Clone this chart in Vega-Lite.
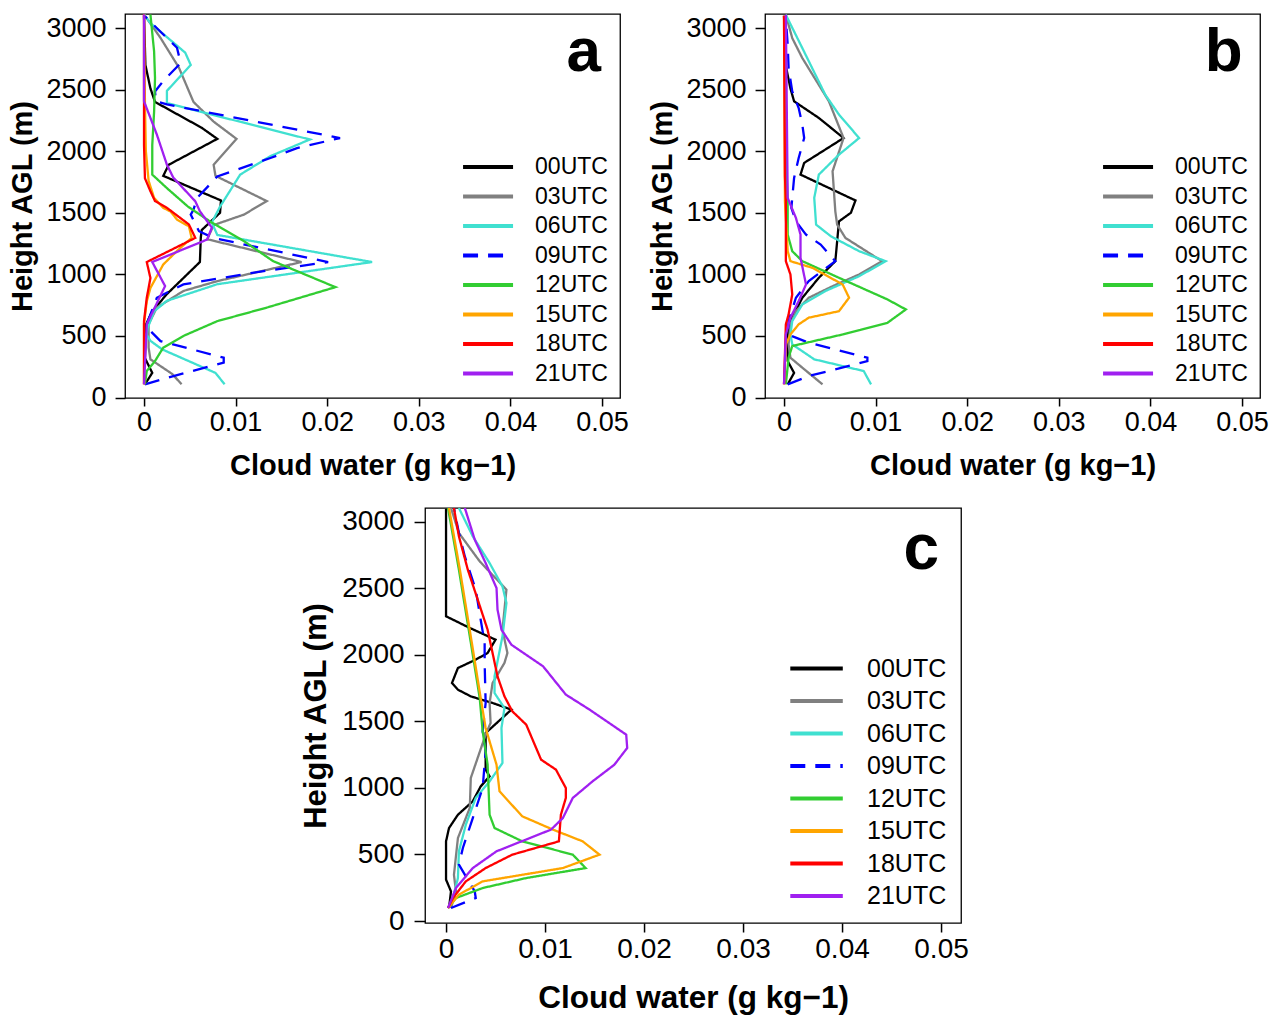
{
"$schema": "https://vega.github.io/schema/vega-lite/v6.json",
"background": "white",
"padding": {"left": 8, "top": 13, "right": 5, "bottom": 2},
"center": true,
"spacing": 26,
"config": {
  "view": {"stroke": "#000", "strokeWidth": 1.3},
  "axis": {"grid": false, "domain": false, "tickColor": "#000", "tickWidth": 1.5, "labelColor": "#000", "titleColor": "#000", "labelFont": "Liberation Sans", "titleFont": "Liberation Sans", "titleFontWeight": "bold", "labelFlush": false, "labelOverlap": false},
  "legend": {"labelFont": "Liberation Sans", "labelColor": "#000", "symbolType": "M-2.5,0H2.5", "symbolStrokeWidth": 4, "padding": 0}
},
"datasets": {
"a": [
{"t":"00UTC","h":3100,"w":0},{"t":"00UTC","h":2700,"w":0.00015},{"t":"00UTC","h":2510,"w":0.0007},{"t":"00UTC","h":2400,"w":0.0012},{"t":"00UTC","h":2190,"w":0.0063},{"t":"00UTC","h":2100,"w":0.008},{"t":"00UTC","h":1890,"w":0.0027},{"t":"00UTC","h":1800,"w":0.0021},{"t":"00UTC","h":1600,"w":0.0084},{"t":"00UTC","h":1500,"w":0.0083},{"t":"00UTC","h":1360,"w":0.0063},{"t":"00UTC","h":1300,"w":0.0062},{"t":"00UTC","h":1100,"w":0.0061},{"t":"00UTC","h":840,"w":0.0025},{"t":"00UTC","h":700,"w":0.0009},{"t":"00UTC","h":590,"w":0.0002},{"t":"00UTC","h":320,"w":0.0001},{"t":"00UTC","h":200,"w":0.0009},{"t":"00UTC","h":107,"w":0.0001},
{"t":"03UTC","h":3110,"w":0},{"t":"03UTC","h":2920,"w":0.0018},{"t":"03UTC","h":2680,"w":0.0038},{"t":"03UTC","h":2400,"w":0.0054},{"t":"03UTC","h":2240,"w":0.0076},{"t":"03UTC","h":2100,"w":0.0101},{"t":"03UTC","h":1890,"w":0.0076},{"t":"03UTC","h":1800,"w":0.0078},{"t":"03UTC","h":1595,"w":0.0134},{"t":"03UTC","h":1485,"w":0.0109},{"t":"03UTC","h":1400,"w":0.0076},{"t":"03UTC","h":1285,"w":0.0069},{"t":"03UTC","h":1100,"w":0.0172},{"t":"03UTC","h":945,"w":0.008},{"t":"03UTC","h":865,"w":0.0043},{"t":"03UTC","h":730,"w":0.0014},{"t":"03UTC","h":595,"w":0.0005},{"t":"03UTC","h":405,"w":0.0005},{"t":"03UTC","h":310,"w":0.0007},{"t":"03UTC","h":190,"w":0.0031},{"t":"03UTC","h":107,"w":0.0041},
{"t":"06UTC","h":3110,"w":0},{"t":"06UTC","h":3040,"w":0.0007},{"t":"06UTC","h":2800,"w":0.0045},{"t":"06UTC","h":2700,"w":0.0051},{"t":"06UTC","h":2490,"w":0.0025},{"t":"06UTC","h":2390,"w":0.0025},{"t":"06UTC","h":2095,"w":0.0181},{"t":"06UTC","h":1960,"w":0.0138},{"t":"06UTC","h":1810,"w":0.0105},{"t":"06UTC","h":1550,"w":0.0083},{"t":"06UTC","h":1420,"w":0.0074},{"t":"06UTC","h":1320,"w":0.008},{"t":"06UTC","h":1100,"w":0.0249},{"t":"06UTC","h":920,"w":0.008},{"t":"06UTC","h":785,"w":0.0025},{"t":"06UTC","h":700,"w":0.0011},{"t":"06UTC","h":565,"w":0.0004},{"t":"06UTC","h":510,"w":0.0003},{"t":"06UTC","h":460,"w":0.0007},{"t":"06UTC","h":390,"w":0.002},{"t":"06UTC","h":200,"w":0.0078},{"t":"06UTC","h":107,"w":0.0088},
{"t":"09UTC","h":3095,"w":0.0001},{"t":"09UTC","h":2970,"w":0.0018},{"t":"09UTC","h":2840,"w":0.0036},{"t":"09UTC","h":2715,"w":0.004},{"t":"09UTC","h":2570,"w":0.0021},{"t":"09UTC","h":2485,"w":0.0012},{"t":"09UTC","h":2405,"w":0.0013},{"t":"09UTC","h":2380,"w":0.0025},{"t":"09UTC","h":2107,"w":0.0214},{"t":"09UTC","h":2025,"w":0.0167},{"t":"09UTC","h":1945,"w":0.0138},{"t":"09UTC","h":1795,"w":0.008},{"t":"09UTC","h":1620,"w":0.0058},{"t":"09UTC","h":1525,"w":0.0054},{"t":"09UTC","h":1485,"w":0.0051},{"t":"09UTC","h":1350,"w":0.006},{"t":"09UTC","h":1295,"w":0.0076},{"t":"09UTC","h":1100,"w":0.0201},{"t":"09UTC","h":1010,"w":0.0116},{"t":"09UTC","h":918,"w":0.0043},{"t":"09UTC","h":810,"w":0.0014},{"t":"09UTC","h":595,"w":0.0003},{"t":"09UTC","h":540,"w":0.0007},{"t":"09UTC","h":458,"w":0.0018},{"t":"09UTC","h":323,"w":0.0087},{"t":"09UTC","h":283,"w":0.0087},{"t":"09UTC","h":160,"w":0.0025},{"t":"09UTC","h":107,"w":0.0001},
{"t":"12UTC","h":3110,"w":0.0007},{"t":"12UTC","h":2810,"w":0.0011},{"t":"12UTC","h":2595,"w":0.0012},{"t":"12UTC","h":2320,"w":0.0011},{"t":"12UTC","h":2050,"w":0.0009},{"t":"12UTC","h":1810,"w":0.0009},{"t":"12UTC","h":1700,"w":0.0025},{"t":"12UTC","h":1550,"w":0.0048},{"t":"12UTC","h":1430,"w":0.0072},{"t":"12UTC","h":1270,"w":0.0109},{"t":"12UTC","h":1107,"w":0.0141},{"t":"12UTC","h":896,"w":0.0209},{"t":"12UTC","h":730,"w":0.0134},{"t":"12UTC","h":620,"w":0.008},{"t":"12UTC","h":500,"w":0.0043},{"t":"12UTC","h":405,"w":0.0021},{"t":"12UTC","h":296,"w":0.0012},{"t":"12UTC","h":215,"w":0.0003},{"t":"12UTC","h":107,"w":0.0001},
{"t":"15UTC","h":3110,"w":0},{"t":"15UTC","h":2400,"w":0.0001},{"t":"15UTC","h":2000,"w":0.0002},{"t":"15UTC","h":1760,"w":0.0005},{"t":"15UTC","h":1620,"w":0.0011},{"t":"15UTC","h":1540,"w":0.0021},{"t":"15UTC","h":1510,"w":0.0029},{"t":"15UTC","h":1445,"w":0.0036},{"t":"15UTC","h":1390,"w":0.0049},{"t":"15UTC","h":1296,"w":0.0052},{"t":"15UTC","h":1190,"w":0.0036},{"t":"15UTC","h":1080,"w":0.0021},{"t":"15UTC","h":890,"w":0.0007},{"t":"15UTC","h":780,"w":0.0003},{"t":"15UTC","h":600,"w":0},{"t":"15UTC","h":107,"w":0},
{"t":"18UTC","h":3110,"w":0},{"t":"18UTC","h":2400,"w":0},{"t":"18UTC","h":2050,"w":0},{"t":"18UTC","h":1780,"w":0.0001},{"t":"18UTC","h":1675,"w":0.0007},{"t":"18UTC","h":1595,"w":0.0012},{"t":"18UTC","h":1540,"w":0.0025},{"t":"18UTC","h":1405,"w":0.0049},{"t":"18UTC","h":1296,"w":0.0056},{"t":"18UTC","h":1100,"w":0.0003},{"t":"18UTC","h":970,"w":0.0007},{"t":"18UTC","h":810,"w":0.0003},{"t":"18UTC","h":620,"w":0},{"t":"18UTC","h":107,"w":0},
{"t":"21UTC","h":3110,"w":0},{"t":"21UTC","h":2405,"w":0},{"t":"21UTC","h":2135,"w":0.0014},{"t":"21UTC","h":1890,"w":0.0025},{"t":"21UTC","h":1785,"w":0.0032},{"t":"21UTC","h":1593,"w":0.0056},{"t":"21UTC","h":1512,"w":0.0061},{"t":"21UTC","h":1380,"w":0.0074},{"t":"21UTC","h":1283,"w":0.0069},{"t":"21UTC","h":1100,"w":0.0009},{"t":"21UTC","h":905,"w":0.0023},{"t":"21UTC","h":595,"w":0.0003},{"t":"21UTC","h":107,"w":0}
],
"b": [
{"t":"00UTC","h":3100,"w":0},{"t":"00UTC","h":2690,"w":0.0002},{"t":"00UTC","h":2510,"w":0.0007},{"t":"00UTC","h":2405,"w":0.0011},{"t":"00UTC","h":2270,"w":0.0038},{"t":"00UTC","h":2107,"w":0.0065},{"t":"00UTC","h":1905,"w":0.0022},{"t":"00UTC","h":1810,"w":0.0018},{"t":"00UTC","h":1600,"w":0.0078},{"t":"00UTC","h":1500,"w":0.0073},{"t":"00UTC","h":1430,"w":0.006},{"t":"00UTC","h":1107,"w":0.0056},{"t":"00UTC","h":972,"w":0.0038},{"t":"00UTC","h":810,"w":0.002},{"t":"00UTC","h":620,"w":0.0007},{"t":"00UTC","h":512,"w":0.0004},{"t":"00UTC","h":296,"w":0.0004},{"t":"00UTC","h":200,"w":0.0011},{"t":"00UTC","h":107,"w":0.0004},
{"t":"03UTC","h":3107,"w":0.0002},{"t":"03UTC","h":2918,"w":0.0009},{"t":"03UTC","h":2756,"w":0.002},{"t":"03UTC","h":2405,"w":0.0049},{"t":"03UTC","h":2107,"w":0.0065},{"t":"03UTC","h":1837,"w":0.0053},{"t":"03UTC","h":1512,"w":0.0056},{"t":"03UTC","h":1404,"w":0.0058},{"t":"03UTC","h":1296,"w":0.0067},{"t":"03UTC","h":1107,"w":0.0107},{"t":"03UTC","h":999,"w":0.0082},{"t":"03UTC","h":904,"w":0.0053},{"t":"03UTC","h":810,"w":0.0027},{"t":"03UTC","h":701,"w":0.0013},{"t":"03UTC","h":594,"w":0.0007},{"t":"03UTC","h":431,"w":0.0005},{"t":"03UTC","h":323,"w":0.0007},{"t":"03UTC","h":242,"w":0.002},{"t":"03UTC","h":107,"w":0.0042},
{"t":"06UTC","h":3107,"w":0.0002},{"t":"06UTC","h":2837,"w":0.002},{"t":"06UTC","h":2459,"w":0.0045},{"t":"06UTC","h":2297,"w":0.006},{"t":"06UTC","h":2107,"w":0.0082},{"t":"06UTC","h":1972,"w":0.006},{"t":"06UTC","h":1810,"w":0.0038},{"t":"06UTC","h":1621,"w":0.0033},{"t":"06UTC","h":1404,"w":0.0035},{"t":"06UTC","h":1310,"w":0.0051},{"t":"06UTC","h":1188,"w":0.0082},{"t":"06UTC","h":1107,"w":0.0111},{"t":"06UTC","h":985,"w":0.0082},{"t":"06UTC","h":864,"w":0.0045},{"t":"06UTC","h":756,"w":0.002},{"t":"06UTC","h":621,"w":0.0009},{"t":"06UTC","h":512,"w":0.0007},{"t":"06UTC","h":431,"w":0.0009},{"t":"06UTC","h":310,"w":0.0033},{"t":"06UTC","h":215,"w":0.0087},{"t":"06UTC","h":107,"w":0.0095},
{"t":"09UTC","h":3080,"w":0.0002},{"t":"09UTC","h":2864,"w":0.0004},{"t":"09UTC","h":2675,"w":0.0005},{"t":"09UTC","h":2486,"w":0.0009},{"t":"09UTC","h":2351,"w":0.0016},{"t":"09UTC","h":2215,"w":0.002},{"t":"09UTC","h":2107,"w":0.0022},{"t":"09UTC","h":1945,"w":0.0016},{"t":"09UTC","h":1783,"w":0.0011},{"t":"09UTC","h":1621,"w":0.0009},{"t":"09UTC","h":1540,"w":0.0008},{"t":"09UTC","h":1431,"w":0.0013},{"t":"09UTC","h":1323,"w":0.0024},{"t":"09UTC","h":1242,"w":0.004},{"t":"09UTC","h":1107,"w":0.0056},{"t":"09UTC","h":945,"w":0.0027},{"t":"09UTC","h":810,"w":0.0013},{"t":"09UTC","h":621,"w":0.0005},{"t":"09UTC","h":512,"w":0.0004},{"t":"09UTC","h":445,"w":0.0027},{"t":"09UTC","h":323,"w":0.0091},{"t":"09UTC","h":296,"w":0.0091},{"t":"09UTC","h":174,"w":0.0027},{"t":"09UTC","h":107,"w":0.0004},
{"t":"12UTC","h":3100,"w":0.0001},{"t":"12UTC","h":2000,"w":0.0002},{"t":"12UTC","h":1593,"w":0.0004},{"t":"12UTC","h":1323,"w":0.0004},{"t":"12UTC","h":1188,"w":0.0009},{"t":"12UTC","h":1107,"w":0.002},{"t":"12UTC","h":972,"w":0.006},{"t":"12UTC","h":796,"w":0.0113},{"t":"12UTC","h":715,"w":0.0133},{"t":"12UTC","h":607,"w":0.0113},{"t":"12UTC","h":512,"w":0.0064},{"t":"12UTC","h":418,"w":0.0009},{"t":"12UTC","h":323,"w":0.0005},{"t":"12UTC","h":107,"w":0.0002},
{"t":"15UTC","h":3100,"w":0},{"t":"15UTC","h":1593,"w":0.0001},{"t":"15UTC","h":1188,"w":0.0004},{"t":"15UTC","h":1107,"w":0.0007},{"t":"15UTC","h":1053,"w":0.0031},{"t":"15UTC","h":918,"w":0.0064},{"t":"15UTC","h":810,"w":0.0071},{"t":"15UTC","h":701,"w":0.006},{"t":"15UTC","h":648,"w":0.0027},{"t":"15UTC","h":594,"w":0.0016},{"t":"15UTC","h":512,"w":0.0007},{"t":"15UTC","h":431,"w":0.0002},{"t":"15UTC","h":107,"w":0},
{"t":"18UTC","h":3100,"w":0},{"t":"18UTC","h":1800,"w":0.0001},{"t":"18UTC","h":1593,"w":0.0002},{"t":"18UTC","h":1300,"w":0.0002},{"t":"18UTC","h":1107,"w":0.0002},{"t":"18UTC","h":999,"w":0.0007},{"t":"18UTC","h":837,"w":0.0009},{"t":"18UTC","h":675,"w":0.0005},{"t":"18UTC","h":594,"w":0.0002},{"t":"18UTC","h":107,"w":0},
{"t":"21UTC","h":3107,"w":0.0002},{"t":"21UTC","h":1621,"w":0.0004},{"t":"21UTC","h":1566,"w":0.0007},{"t":"21UTC","h":1458,"w":0.0013},{"t":"21UTC","h":1323,"w":0.0018},{"t":"21UTC","h":1134,"w":0.0018},{"t":"21UTC","h":918,"w":0.0024},{"t":"21UTC","h":783,"w":0.0016},{"t":"21UTC","h":648,"w":0.0007},{"t":"21UTC","h":512,"w":0.0002},{"t":"21UTC","h":107,"w":0}
],
"c": [
{"t":"00UTC","h":3100,"w":0},{"t":"00UTC","h":2291,"w":0},{"t":"00UTC","h":2203,"w":0.0024},{"t":"00UTC","h":2115,"w":0.005},{"t":"00UTC","h":2015,"w":0.0042},{"t":"00UTC","h":1965,"w":0.003},{"t":"00UTC","h":1902,"w":0.0012},{"t":"00UTC","h":1789,"w":0.0006},{"t":"00UTC","h":1739,"w":0.0012},{"t":"00UTC","h":1689,"w":0.0025},{"t":"00UTC","h":1639,"w":0.0047},{"t":"00UTC","h":1589,"w":0.0066},{"t":"00UTC","h":1413,"w":0.004},{"t":"00UTC","h":1138,"w":0.004},{"t":"00UTC","h":1088,"w":0.0044},{"t":"00UTC","h":1012,"w":0.0035},{"t":"00UTC","h":900,"w":0.0027},{"t":"00UTC","h":799,"w":0.0012},{"t":"00UTC","h":699,"w":0.0003},{"t":"00UTC","h":599,"w":0},{"t":"00UTC","h":311,"w":0},{"t":"00UTC","h":223,"w":0.0005},{"t":"00UTC","h":98,"w":0.0003},
{"t":"03UTC","h":3105,"w":0.0005},{"t":"03UTC","h":2917,"w":0.0013},{"t":"03UTC","h":2704,"w":0.0034},{"t":"03UTC","h":2491,"w":0.0061},{"t":"03UTC","h":2190,"w":0.0057},{"t":"03UTC","h":2015,"w":0.0062},{"t":"03UTC","h":1940,"w":0.0059},{"t":"03UTC","h":1789,"w":0.0047},{"t":"03UTC","h":1639,"w":0.0044},{"t":"03UTC","h":1489,"w":0.0045},{"t":"03UTC","h":1401,"w":0.004},{"t":"03UTC","h":1075,"w":0.0025},{"t":"03UTC","h":850,"w":0.0024},{"t":"03UTC","h":624,"w":0.0012},{"t":"03UTC","h":348,"w":0.0008},{"t":"03UTC","h":223,"w":0.001},{"t":"03UTC","h":98,"w":0.0005},
{"t":"06UTC","h":3105,"w":0.0013},{"t":"06UTC","h":2892,"w":0.0027},{"t":"06UTC","h":2691,"w":0.0044},{"t":"06UTC","h":2516,"w":0.0057},{"t":"06UTC","h":2391,"w":0.0061},{"t":"06UTC","h":2140,"w":0.0057},{"t":"06UTC","h":1839,"w":0.0049},{"t":"06UTC","h":1714,"w":0.0049},{"t":"06UTC","h":1601,"w":0.0059},{"t":"06UTC","h":1451,"w":0.0056},{"t":"06UTC","h":1188,"w":0.0057},{"t":"06UTC","h":1050,"w":0.0044},{"t":"06UTC","h":925,"w":0.003},{"t":"06UTC","h":724,"w":0.002},{"t":"06UTC","h":524,"w":0.0013},{"t":"06UTC","h":323,"w":0.0012},{"t":"06UTC","h":173,"w":0.0007},{"t":"06UTC","h":98,"w":0.0002},
{"t":"09UTC","h":3105,"w":0.0008},{"t":"09UTC","h":2917,"w":0.0013},{"t":"09UTC","h":2741,"w":0.0019},{"t":"09UTC","h":2491,"w":0.003},{"t":"09UTC","h":2265,"w":0.0035},{"t":"09UTC","h":2090,"w":0.0039},{"t":"09UTC","h":1940,"w":0.0039},{"t":"09UTC","h":1639,"w":0.004},{"t":"09UTC","h":1426,"w":0.0037},{"t":"09UTC","h":1276,"w":0.004},{"t":"09UTC","h":1000,"w":0.0037},{"t":"09UTC","h":774,"w":0.0027},{"t":"09UTC","h":549,"w":0.0017},{"t":"09UTC","h":424,"w":0.0013},{"t":"09UTC","h":223,"w":0.0029},{"t":"09UTC","h":173,"w":0.003},{"t":"09UTC","h":98,"w":0.0005},
{"t":"12UTC","h":3105,"w":0.0002},{"t":"12UTC","h":2641,"w":0.0013},{"t":"12UTC","h":2140,"w":0.0024},{"t":"12UTC","h":1677,"w":0.0034},{"t":"12UTC","h":1426,"w":0.0037},{"t":"12UTC","h":1175,"w":0.0042},{"t":"12UTC","h":799,"w":0.0044},{"t":"12UTC","h":699,"w":0.0049},{"t":"12UTC","h":599,"w":0.0077},{"t":"12UTC","h":499,"w":0.0128},{"t":"12UTC","h":398,"w":0.0141},{"t":"12UTC","h":323,"w":0.0081},{"t":"12UTC","h":248,"w":0.0037},{"t":"12UTC","h":173,"w":0.001},{"t":"12UTC","h":98,"w":0.0002},
{"t":"15UTC","h":3105,"w":0.0003},{"t":"15UTC","h":2641,"w":0.0014},{"t":"15UTC","h":2140,"w":0.0025},{"t":"15UTC","h":1677,"w":0.0035},{"t":"15UTC","h":1451,"w":0.004},{"t":"15UTC","h":1175,"w":0.0051},{"t":"15UTC","h":975,"w":0.0054},{"t":"15UTC","h":787,"w":0.0077},{"t":"15UTC","h":687,"w":0.0108},{"t":"15UTC","h":599,"w":0.0138},{"t":"15UTC","h":499,"w":0.0155},{"t":"15UTC","h":398,"w":0.0118},{"t":"15UTC","h":298,"w":0.0037},{"t":"15UTC","h":198,"w":0.0013},{"t":"15UTC","h":98,"w":0.0002},
{"t":"18UTC","h":3105,"w":0.0008},{"t":"18UTC","h":2892,"w":0.0013},{"t":"18UTC","h":2641,"w":0.0022},{"t":"18UTC","h":2416,"w":0.0032},{"t":"18UTC","h":2190,"w":0.0042},{"t":"18UTC","h":2015,"w":0.0047},{"t":"18UTC","h":1839,"w":0.0052},{"t":"18UTC","h":1689,"w":0.0059},{"t":"18UTC","h":1576,"w":0.0067},{"t":"18UTC","h":1476,"w":0.0081},{"t":"18UTC","h":1213,"w":0.0096},{"t":"18UTC","h":1138,"w":0.0111},{"t":"18UTC","h":1000,"w":0.0121},{"t":"18UTC","h":925,"w":0.0121},{"t":"18UTC","h":799,"w":0.0116},{"t":"18UTC","h":599,"w":0.0114},{"t":"18UTC","h":499,"w":0.0067},{"t":"18UTC","h":398,"w":0.004},{"t":"18UTC","h":298,"w":0.002},{"t":"18UTC","h":173,"w":0.0007},{"t":"18UTC","h":98,"w":0.0002},
{"t":"21UTC","h":3105,"w":0.0019},{"t":"21UTC","h":2867,"w":0.0029},{"t":"21UTC","h":2691,"w":0.004},{"t":"21UTC","h":2503,"w":0.0051},{"t":"21UTC","h":2341,"w":0.0052},{"t":"21UTC","h":2190,"w":0.0056},{"t":"21UTC","h":2077,"w":0.0066},{"t":"21UTC","h":1915,"w":0.0098},{"t":"21UTC","h":1702,"w":0.0121},{"t":"21UTC","h":1589,"w":0.0145},{"t":"21UTC","h":1401,"w":0.0182},{"t":"21UTC","h":1301,"w":0.0183},{"t":"21UTC","h":1175,"w":0.017},{"t":"21UTC","h":1050,"w":0.0148},{"t":"21UTC","h":925,"w":0.0128},{"t":"21UTC","h":774,"w":0.0118},{"t":"21UTC","h":687,"w":0.0106},{"t":"21UTC","h":524,"w":0.0051},{"t":"21UTC","h":398,"w":0.0027},{"t":"21UTC","h":248,"w":0.001},{"t":"21UTC","h":98,"w":0.0002}
]
},
"resolve": {"scale": {"color": "independent", "strokeDash": "independent"}, "legend": {"color": "independent", "strokeDash": "independent"}},
"vconcat": [
{
"hconcat": [
{
"width": 495, "height": 384,
"layer": [
{"data": {"name": "a"},
 "mark": {"type": "line", "strokeWidth": 2.3, "clip": true},
 "encoding": {
  "x": {"field": "w", "type": "quantitative", "scale": {"domain": [-0.00207, 0.05197], "nice": false, "zero": false}, "axis": {"values": [0, 0.01, 0.02, 0.03, 0.04, 0.05], "format": "~g", "tickSize": 8, "labelPadding": 3, "labelFontSize": 27, "titleFontSize": 29, "titlePadding": 16, "title": "Cloud water (g kg−1)"}},
  "y": {"field": "h", "type": "quantitative", "scale": {"domain": [-4, 3114], "nice": false, "zero": false}, "axis": {"values": [0,250,500,750,1000,1250,1500,1750,2000,2250,2500,2750,3000], "format": "d", "labelExpr": "datum.value % 500 === 0 ? datum.label : ''", "tickSize": 10, "labelPadding": 9, "labelFontSize": 27, "titleFontSize": 29, "titlePadding": 8, "title": "Height AGL (m)"}},
  "color": {"field": "t", "type": "nominal", "scale": {"domain": ["00UTC","03UTC","06UTC","09UTC","12UTC","15UTC","18UTC","21UTC"], "range": ["#000000","#808080","#40E0D0","#0000FF","#32CD32","#FFA500","#FF0000","#A020F0"]}, "legend": {"title": null, "orient": "bottom-right", "offset": 12, "labelFontSize": 23, "symbolSize": 400, "labelOffset": 35, "rowPadding": 5.5}},
  "strokeDash": {"field": "t", "type": "nominal", "scale": {"domain": ["00UTC","03UTC","06UTC","09UTC","12UTC","15UTC","18UTC","21UTC"], "range": [[1,0],[1,0],[1,0],[15,10],[1,0],[1,0],[1,0],[1,0]]}, "legend": {"title": null, "orient": "bottom-right", "offset": 12, "labelFontSize": 23, "symbolSize": 400, "labelOffset": 35, "rowPadding": 5.5}},
  "order": {"field": "h", "type": "quantitative"}
 }},
{"data": {"values": [{"lab": "a"}]},
 "mark": {"type": "text", "fontSize": 62, "fontWeight": "bold", "font": "Liberation Sans", "align": "center", "baseline": "alphabetic", "color": "#000"},
 "encoding": {"x": {"datum": 0.048}, "y": {"datum": 2650}, "text": {"field": "lab"}}}
]
},
{
"width": 495, "height": 384,
"layer": [
{"data": {"name": "b"},
 "mark": {"type": "line", "strokeWidth": 2.3, "clip": true},
 "encoding": {
  "x": {"field": "w", "type": "quantitative", "scale": {"domain": [-0.00207, 0.05197], "nice": false, "zero": false}, "axis": {"values": [0, 0.01, 0.02, 0.03, 0.04, 0.05], "format": "~g", "tickSize": 8, "labelPadding": 3, "labelFontSize": 27, "titleFontSize": 29, "titlePadding": 16, "title": "Cloud water (g kg−1)"}},
  "y": {"field": "h", "type": "quantitative", "scale": {"domain": [-4, 3114], "nice": false, "zero": false}, "axis": {"values": [0,250,500,750,1000,1250,1500,1750,2000,2250,2500,2750,3000], "format": "d", "labelExpr": "datum.value % 500 === 0 ? datum.label : ''", "tickSize": 10, "labelPadding": 9, "labelFontSize": 27, "titleFontSize": 29, "titlePadding": 8, "title": "Height AGL (m)"}},
  "color": {"field": "t", "type": "nominal", "scale": {"domain": ["00UTC","03UTC","06UTC","09UTC","12UTC","15UTC","18UTC","21UTC"], "range": ["#000000","#808080","#40E0D0","#0000FF","#32CD32","#FFA500","#FF0000","#A020F0"]}, "legend": {"title": null, "orient": "bottom-right", "offset": 12, "labelFontSize": 23, "symbolSize": 400, "labelOffset": 35, "rowPadding": 5.5}},
  "strokeDash": {"field": "t", "type": "nominal", "scale": {"domain": ["00UTC","03UTC","06UTC","09UTC","12UTC","15UTC","18UTC","21UTC"], "range": [[1,0],[1,0],[1,0],[15,10],[1,0],[1,0],[1,0],[1,0]]}, "legend": {"title": null, "orient": "bottom-right", "offset": 12, "labelFontSize": 23, "symbolSize": 400, "labelOffset": 35, "rowPadding": 5.5}},
  "order": {"field": "h", "type": "quantitative"}
 }},
{"data": {"values": [{"lab": "b"}]},
 "mark": {"type": "text", "fontSize": 62, "fontWeight": "bold", "font": "Liberation Sans", "align": "center", "baseline": "alphabetic", "color": "#000"},
 "encoding": {"x": {"datum": 0.048}, "y": {"datum": 2650}, "text": {"field": "lab"}}}
]
}
],
"spacing": 19,
"resolve": {"scale": {"color": "independent", "strokeDash": "independent"}, "legend": {"color": "independent", "strokeDash": "independent"}}
},
{
"width": 536, "height": 415,
"layer": [
{"data": {"name": "c"},
 "mark": {"type": "line", "strokeWidth": 2.3, "clip": true},
 "encoding": {
  "x": {"field": "w", "type": "quantitative", "scale": {"domain": [-0.00212, 0.05202], "nice": false, "zero": false}, "axis": {"values": [0, 0.01, 0.02, 0.03, 0.04, 0.05], "format": "~g", "tickSize": 9, "labelPadding": 3, "labelFontSize": 28, "titleFontSize": 31.5, "titlePadding": 19, "title": "Cloud water (g kg−1)"}},
  "y": {"field": "h", "type": "quantitative", "scale": {"domain": [-15, 3105], "nice": false, "zero": false}, "axis": {"values": [0,250,500,750,1000,1250,1500,1750,2000,2250,2500,2750,3000], "format": "d", "labelExpr": "datum.value % 500 === 0 ? datum.label : ''", "tickSize": 11, "labelPadding": 10, "labelFontSize": 28, "titleFontSize": 31, "titlePadding": 9, "title": "Height AGL (m)"}},
  "color": {"field": "t", "type": "nominal", "scale": {"domain": ["00UTC","03UTC","06UTC","09UTC","12UTC","15UTC","18UTC","21UTC"], "range": ["#000000","#808080","#40E0D0","#0000FF","#32CD32","#FFA500","#FF0000","#A020F0"]}, "legend": {"title": null, "orient": "bottom-right", "offset": 14, "labelFontSize": 25, "symbolSize": 441, "labelOffset": 38, "rowPadding": 6.5}},
  "strokeDash": {"field": "t", "type": "nominal", "scale": {"domain": ["00UTC","03UTC","06UTC","09UTC","12UTC","15UTC","18UTC","21UTC"], "range": [[1,0],[1,0],[1,0],[15,10],[1,0],[1,0],[1,0],[1,0]]}, "legend": {"title": null, "orient": "bottom-right", "offset": 14, "labelFontSize": 25, "symbolSize": 441, "labelOffset": 38, "rowPadding": 6.5}},
  "order": {"field": "h", "type": "quantitative"}
 }},
{"data": {"values": [{"lab": "c"}]},
 "mark": {"type": "text", "fontSize": 64, "fontWeight": "bold", "font": "Liberation Sans", "align": "center", "baseline": "alphabetic", "color": "#000"},
 "encoding": {"x": {"datum": 0.048}, "y": {"datum": 2650}, "text": {"field": "lab"}}}
]
}
]
}
